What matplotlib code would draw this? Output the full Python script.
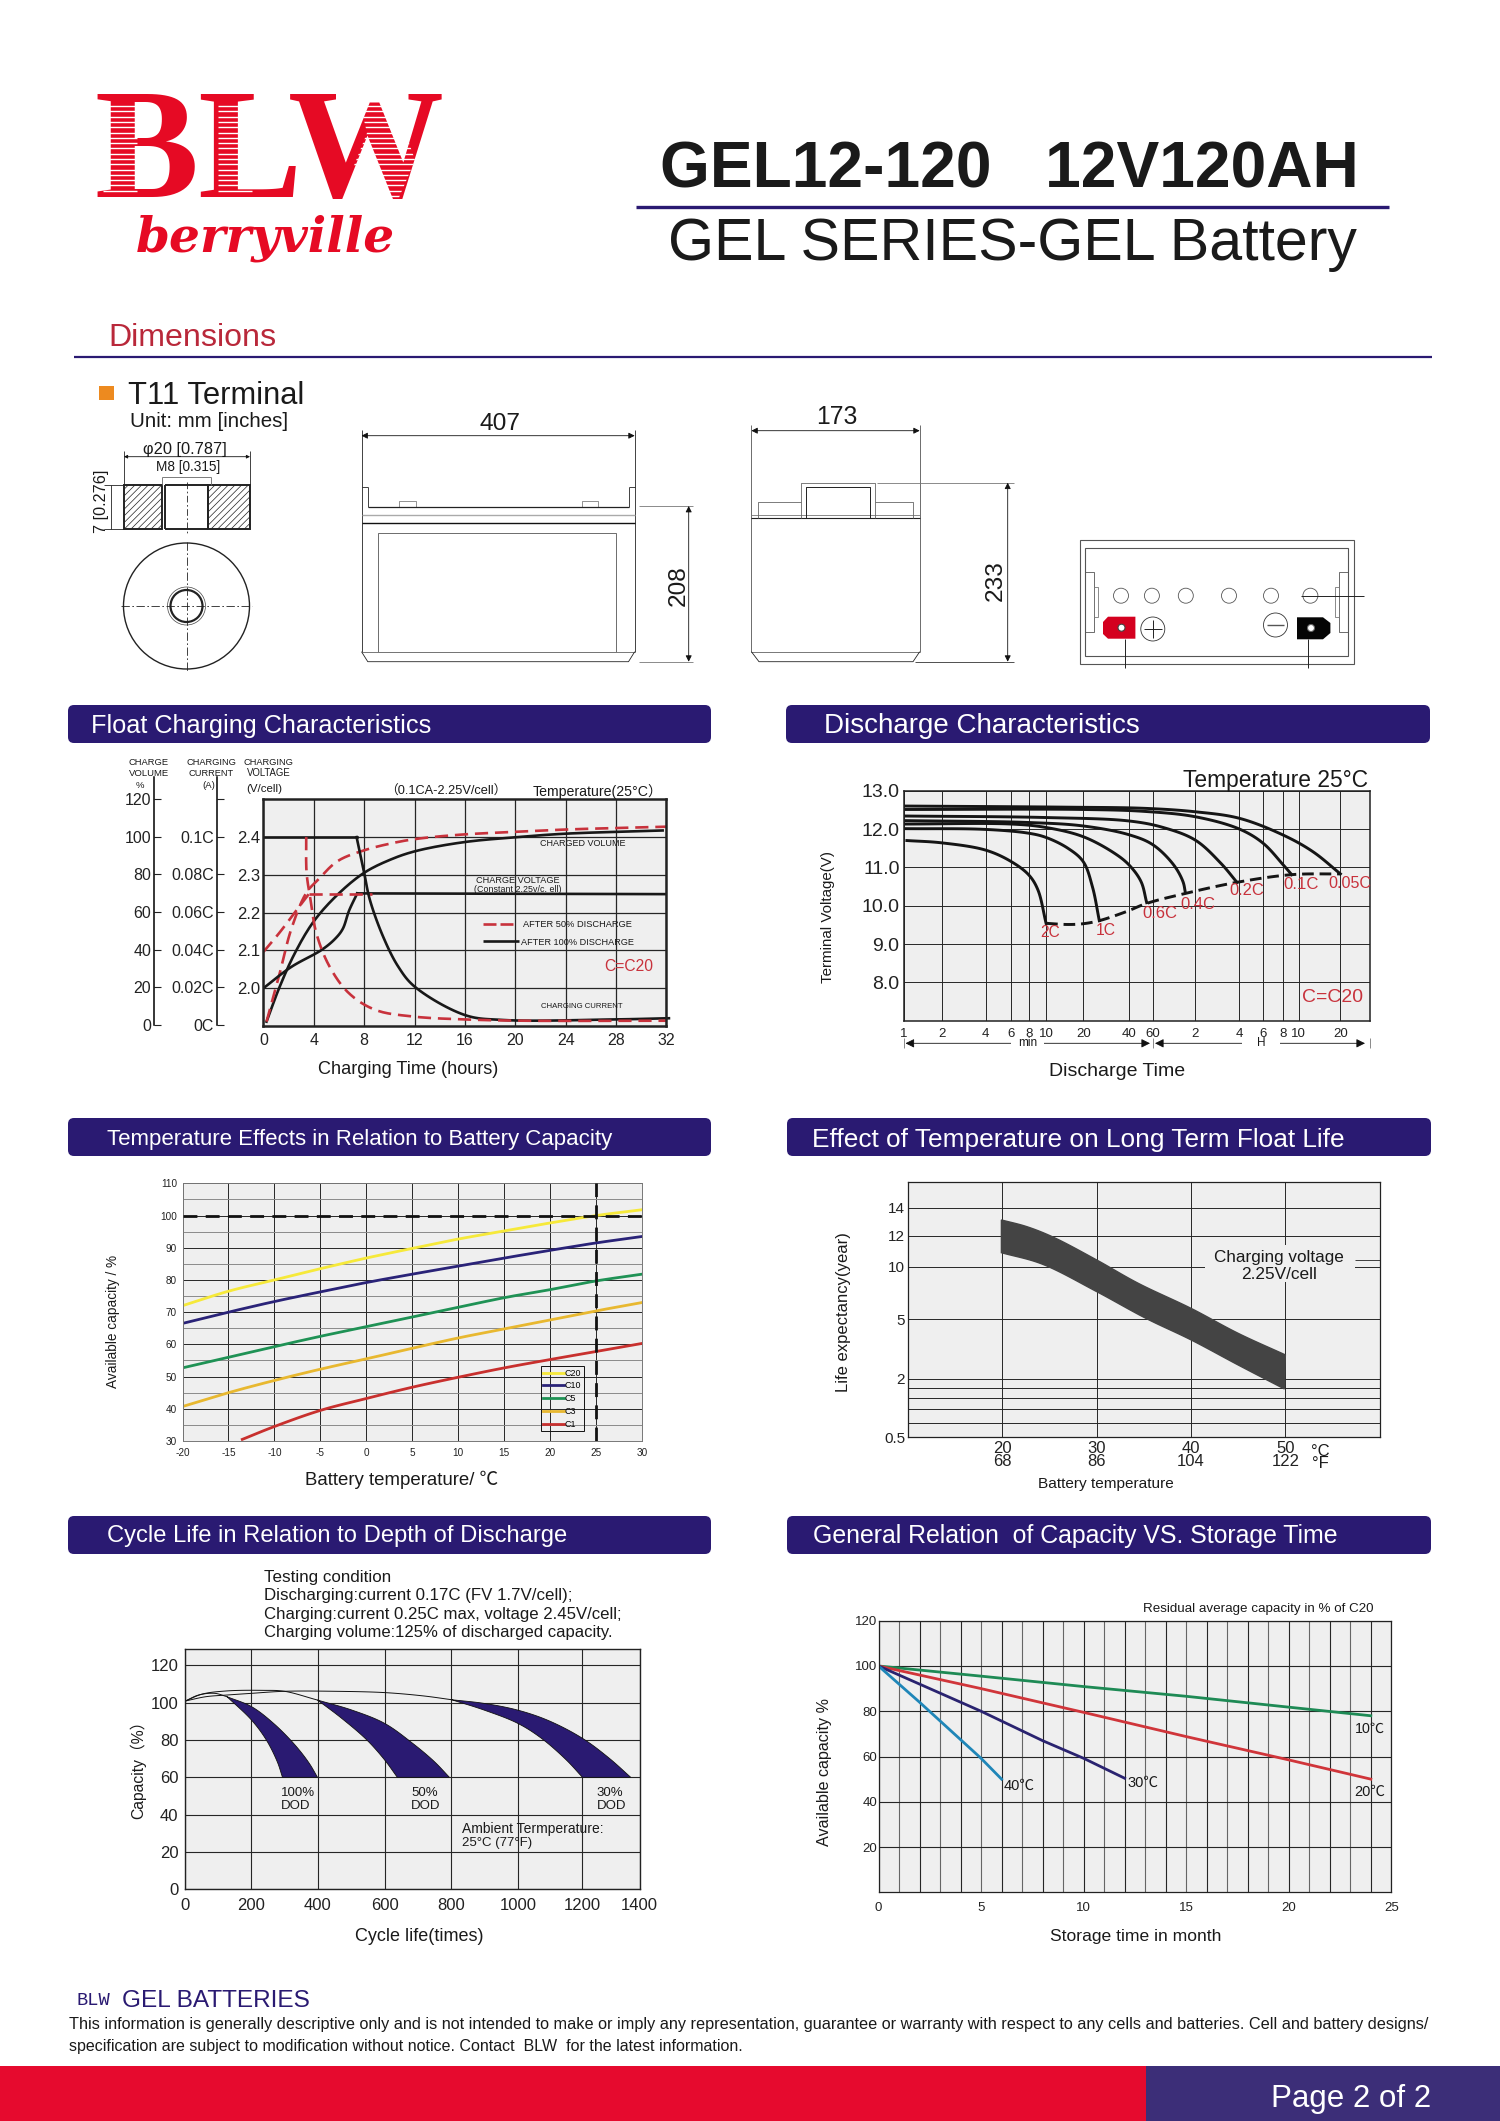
import numpy as np
import matplotlib
matplotlib.use("Agg")
import matplotlib.pyplot as plt
from matplotlib.patches import Rectangle, FancyBboxPatch, Circle, Polygon

plt.rcParams['font.family'] = ['Liberation Sans', 'Noto Sans CJK SC', 'DejaVu Sans']
plt.rcParams['hatch.linewidth'] = 0.5
W, H = 1500, 2121
NAVY = '#2a1a72'
RED = '#e60a24'
LRED = '#c8323c'
BG = '#efefef'
GRID = '#262626'

# ---------- Float charging ----------
hours_ticks = [0, 4, 8, 12, 16, 20, 24, 28, 32]
volt_ticks = [2.0, 2.1, 2.2, 2.3, 2.4]
volume_ticks = [0, 20, 40, 60, 80, 100, 120]
current_ticks = [0, 0.02, 0.04, 0.06, 0.08, 0.1, 0.12]
current_labels = ['0C', '0.02C', '0.04C', '0.06C', '0.08C', '0.1C', '']
vol100_h = [0.25, 1.3, 2.5, 4.0, 5.9, 8, 10.1, 12.1, 15.9, 20.2, 24, 31.7]
vol100_pct = [2.3, 20.9, 38.6, 55.4, 69.6, 81.1, 88.1, 92.6, 97.3, 100, 101.8, 103.5]
vol50_h = [0.25, 1.3, 2.2, 3.4, 4.35, 5.9, 8, 10.1, 12.1, 15.9, 20.2, 24, 32]
vol50_pct = [2.3, 28, 51, 70.4, 77.5, 87.3, 93, 96.6, 99, 101.4, 102.8, 104, 105.5]
volt100_h = [0, 2.2, 4.65, 5.7, 6.3, 6.8, 7.45]
volt100_v = [2.0, 2.056, 2.102, 2.131, 2.157, 2.205, 2.251]
volt100_flat_h = [7.45, 32]
volt100_flat_v = [2.251, 2.249]
volt50_h = [0, 1.3, 2.8, 3.6]
volt50_v = [2.096, 2.148, 2.214, 2.249]
volt50_flat_h = [3.6, 8.6]
volt50_flat_v = [2.249, 2.249]
cur100_flat_h = [0, 7.4]
cur100_flat_c = [0.1, 0.1]
cur100_h = [7.4, 8, 8.45, 9.5, 10.7, 12, 16, 19, 28, 32.2]
cur100_c = [0.1, 0.0811, 0.0669, 0.0474, 0.0315, 0.0209, 0.0058, 0.0032, 0.0035, 0.0041]
cur50_h = [3.4, 3.43, 3.74, 4.2, 5.25, 6.8, 8.9, 11.9, 15.9, 20.5, 32]
cur50_c = [0.1, 0.0811, 0.0669, 0.0492, 0.0315, 0.0173, 0.0085, 0.005, 0.0035, 0.0028, 0.0028]

# ---------- Discharge ----------
time_knots = [1, 2, 4, 6, 8, 10, 20, 40, 60, 120, 240, 360, 480, 600, 1200, 1945]
time_knot_pos = [271, 370, 485, 552, 598, 643, 740, 860, 922, 1033, 1148, 1210, 1263, 1303, 1412, 1488]
time_ticks = [1, 2, 4, 6, 8, 10, 20, 40, 60, 120, 240, 360, 480, 600, 1200]
time_labels = ['1', '2', '4', '6', '8', '10', '20', '40', '60', '2', '4', '6', '8', '10', '20']
d005_t = [1, 15, 52, 120, 240, 480, 759, 1200]
d005_v = [12.6, 12.57, 12.54, 12.45, 12.28, 11.84, 11.41, 10.83]
d01_t = [1, 20, 52, 120, 240, 360, 480, 542]
d01_v = [12.51, 12.51, 12.46, 12.32, 12.0, 11.63, 11.06, 10.81]
d02_t = [1, 10, 40, 71, 120, 180, 231]
d02_v = [12.34, 12.3, 12.21, 12.04, 11.71, 11.1, 10.61]
d04_t = [1, 8, 20, 40, 60, 84, 98, 102]
d04_v = [12.22, 12.17, 12.08, 11.85, 11.59, 11.07, 10.63, 10.34]
d06_t = [1, 6, 10, 20, 32, 40, 49, 54]
d06_v = [12.13, 12.13, 12.04, 11.8, 11.37, 11.06, 10.63, 10.08]
d1_t = [1, 4, 8, 10, 15, 20, 23, 25.5]
d1_v = [12.01, 11.99, 11.89, 11.78, 11.5, 11.15, 10.49, 9.61]
d2_t = [1.06, 2, 4, 6, 8, 9, 10]
d2_v = [11.7, 11.64, 11.45, 11.15, 10.8, 10.41, 9.54]
dend_t = [10, 15, 20, 25.5, 38, 54, 102, 231, 542, 1200]
dend_v = [9.54, 9.51, 9.53, 9.61, 9.84, 10.06, 10.32, 10.61, 10.81, 10.83]

# ---------- Temperature vs capacity ----------
temp_c = [-20, -15, -10, -5, 0, 5, 10, 15, 20, 25, 30]
cap_c20 = [72, 76.5, 80, 83.5, 86.8, 89.8, 92.7, 95.2, 97.7, 100, 101.8]
cap_c10 = [66.5, 70, 73.3, 76.3, 79.2, 81.8, 84.3, 86.8, 89.2, 91.5, 93.5]
cap_c5 = [52.7, 56, 59.3, 62.5, 65.5, 68.5, 71.5, 74.5, 77, 79.7, 81.8]
cap_c3 = [40.7, 45, 48.8, 52.3, 55.5, 58.8, 62, 64.8, 67.6, 70.4, 73]
temp_c1 = [-13.5, -10, -5, 0, 5, 10, 15, 20, 25, 30]
cap_c1 = [30.5, 34.5, 39.5, 43.2, 46.7, 49.8, 52.7, 55.3, 57.8, 60.3]

# ---------- Float life ----------
life_knots = [0.5, 0.7, 1, 1.2, 1.5, 2, 5, 10, 12, 14, 16]
life_knot_pos = [-832, -788, -748, -713, -683, -656, -478, -320, -227, -143, -67]
life_labels = ['0.5', '', '', '', '', '2', '5', '10', '12', '14']
life_temp_ticks = [20, 30, 40, 50]
life_temp_labels = ['20\n68', '30\n86', '40\n104', '50\n122']
life_up_t = [19.9, 22.6, 25.4, 30, 34.4, 40, 45, 50]
life_up_y = [13.12, 12.64, 11.9, 10.43, 8.42, 6.04, 4.29, 3.2]
life_lo_t = [19.9, 24.2, 30, 35.2, 40, 45, 49.9]
life_lo_y = [10.9, 10.17, 7.63, 5.1, 3.96, 2.69, 1.46]

# ---------- Cycle life ----------
cyc_knots = [0, 200, 400, 600, 800, 1000, 1200, 1400]
cyc_knot_pos = [183, 368, 553, 741, 928, 1114, 1295, 1455]
cyc_a_x = [0, 51, 126, 235, 300, 400]
cyc_a_y = [100.9, 104.6, 106.3, 106.6, 106.1, 101.4]
cyc_b_x = [0, 62, 126, 200, 300, 450, 600, 717, 800]
cyc_b_y = [100.9, 103.2, 104.1, 105, 106.1, 106.1, 105.4, 103.6, 101.6]
cyc_c_x = [0, 40, 89, 126]
cyc_c_y = [100.9, 104.1, 105, 103.2]
d100_up_x = [126, 200, 267, 332, 375, 400]
d100_up_y = [103.2, 97.9, 88.9, 77.3, 67.5, 60]
d100_lo_x = [126, 200, 245, 278, 294]
d100_lo_y = [103.2, 90.7, 80, 68.4, 60]
d50_up_x = [400, 503, 600, 684, 749, 794]
d50_up_y = [101.4, 96, 88.9, 78.2, 68.4, 60]
d50_lo_x = [400, 472, 547, 600, 638]
d50_lo_y = [101.4, 91.6, 80, 69.3, 60]
d30_up_x = [800, 899, 1000, 1095, 1200, 1294, 1369]
d30_up_y = [101.6, 99.6, 96, 90.4, 80.9, 70.2, 60]
d30_lo_x = [800, 899, 1000, 1073, 1150, 1200]
d30_lo_y = [101.6, 96, 88.9, 80.9, 69.3, 60]

# ---------- Storage ----------
months = list(range(0, 26))
month_labels = [str(m) if m % 5 == 0 else '' for m in months]
st10_m = [0, 5, 10, 15, 20, 24]
st10_v = [100, 95.5, 90.9, 86.6, 81.8, 78]
st20_m = [0, 5, 10, 15, 20, 24]
st20_v = [100, 90, 79.5, 68.8, 58.5, 50]
st30_m = [0, 5, 8, 10, 12]
st30_v = [100, 80, 67, 59.2, 50.4]
st40_m = [0, 2, 5, 6]
st40_v = [100, 84, 59.2, 50]

fig = plt.figure(figsize=(W / 100, H / 100), dpi=100, facecolor='white')
renderer = fig.canvas.get_renderer()


def axpx(x0, y0, x1, y1):
    a = fig.add_axes([x0 / W, 1 - y1 / H, (x1 - x0) / W, (y1 - y0) / H])
    a.set_facecolor(BG)
    return a


def smooth(ax, x, y, n=14):
    p = ax.transData.transform(np.column_stack([x, y]))
    P = np.vstack([2 * p[0] - p[1], p, 2 * p[-1] - p[-2]])
    out = [p[:1]]
    for i in range(1, len(P) - 2):
        p0, p1, p2, p3 = P[i - 1], P[i], P[i + 1], P[i + 2]
        t0 = 0.0
        t1 = t0 + max(np.linalg.norm(p1 - p0), 1e-6) ** 0.5
        t2 = t1 + max(np.linalg.norm(p2 - p1), 1e-6) ** 0.5
        t3 = t2 + max(np.linalg.norm(p3 - p2), 1e-6) ** 0.5
        t = np.linspace(t1, t2, n + 1)[1:][:, None]
        A1 = (t1 - t) / (t1 - t0) * p0 + (t - t0) / (t1 - t0) * p1
        A2 = (t2 - t) / (t2 - t1) * p1 + (t - t1) / (t2 - t1) * p2
        A3 = (t3 - t) / (t3 - t2) * p2 + (t - t2) / (t3 - t2) * p3
        B1 = (t2 - t) / (t2 - t0) * A1 + (t - t0) / (t2 - t0) * A2
        B2 = (t3 - t) / (t3 - t1) * A2 + (t - t1) / (t3 - t1) * A3
        out.append((t2 - t) / (t2 - t1) * B1 + (t - t1) / (t2 - t1) * B2)
    return ax.transData.inverted().transform(np.vstack(out)).T


def knot_scale(ax, which, vals, pos, log=False):
    vals = np.asarray(vals, float)
    pos = np.asarray(pos, float)
    kv = np.log10(vals) if log else vals

    def fwd(v):
        v = np.asarray(v, float)
        if log:
            v = np.log10(np.clip(v, 1e-6, None))
        return np.interp(v, kv, pos)

    def inv(v):
        r = np.interp(np.asarray(v, float), pos, kv)
        return 10 ** r if log else r
    if which == 'x':
        ax.set_xscale('function', functions=(fwd, inv))
    else:
        ax.set_yscale('function', functions=(fwd, inv))


def style(ax, xt, xl, yt, yl, fs, pad_x, pad_y, lw=0.7, sp=0.9):
    ax.set_xticks(xt, labels=xl)
    ax.set_yticks(yt, labels=yl)
    ax.minorticks_off()
    ax.tick_params(length=0, labelsize=fs, colors='#222222')
    ax.tick_params(axis='x', pad=pad_x)
    ax.tick_params(axis='y', pad=pad_y)
    ax.grid(True, color=GRID, lw=lw)
    for s in ax.spines.values():
        s.set_linewidth(sp)
        s.set_color('#222222')


# ---------- Overlay ----------
ov = fig.add_axes([0, 0, 1, 1], zorder=10)
ov.set_xlim(0, W)
ov.set_ylim(H, 0)
ov.axis('off')
ov.patch.set_alpha(0)


def T(x, y, s, w=None, size=10, color='#1a1a1a', ha='center', va='center', rot=0, **kw):
    t = ov.text(x, y, s, fontsize=size, color=color, ha=ha, va=va, rotation=rot, **kw)
    if w is not None:
        bb = t.get_window_extent(renderer)
        t.set_fontsize(size * w / max(bb.width, bb.height))
    if va == 'center':
        off = 0.1 * t.get_fontsize() * 100 / 72
        if rot:
            t.set_x(x + off)
        else:
            t.set_y(y + off)
    return t


def L(xs, ys, lw=0.6, c='#222222', ls='-', z=4):
    return ov.plot(xs, ys, lw=lw, color=c, ls=ls, zorder=z, solid_capstyle='butt')[0]


def R(x0, y0, x1, y1, fc='none', ec='#222222', lw=0.6, z=3, **kw):
    r = Rectangle((x0, y0), x1 - x0, y1 - y0, fc=fc, ec=ec, lw=lw, zorder=z, **kw)
    ov.add_patch(r)
    return r


def dim(x0, y0, x1, y1, ms=9):
    ov.annotate('', xy=(x1, y1), xytext=(x0, y0), zorder=5,
                arrowprops=dict(arrowstyle='<|-|>', color='#111111', lw=0.6, mutation_scale=ms,
                                shrinkA=0, shrinkB=0))


# Logo
T(269.5, 197, 'BLW', w=350, family='Liberation Serif', weight='bold', color=RED, va='baseline')
for yy in np.arange(106, 192, 5.3):
    L([103, 137], [yy, yy], lw=1.0, c='white', z=6)
    L([218, 252], [yy, yy], lw=1.0, c='white', z=6)
clip_w = Polygon([(360, 103), (395, 103), (415, 160), (398, 200), (391, 200), (353, 168), (367, 133)],
                 transform=ov.transData, fill=False, ec='none')
ov.add_patch(clip_w)
for yy in np.arange(106, 198, 5.3):
    ln = L([345, 425], [yy, yy], lw=1.0, c='white', z=6)
    ln.set_clip_path(clip_w)
T(265, 252, 'berryville', size=35, family='DejaVu Serif', style='italic', weight='bold', color=RED, va='baseline')

# Title
T(1009, 187, 'GEL12-120   12V120AH', w=696, weight='bold', va='baseline')
L([636, 1389], [207, 207], lw=2.4, c=NAVY)
T(1013, 260, 'GEL SERIES-GEL Battery', w=691, va='baseline')
T(108, 335, 'Dimensions', w=168, color='#b9283a', ha='left')
L([74, 1432], [357, 357], lw=1.6, c=NAVY)

# Terminal
R(99, 385.7, 114, 400, fc='#ed8a1f', ec='none')
T(128, 392.7, 'T11 Terminal', w=176, ha='left')
T(130, 419.3, 'Unit: mm [inches]', w=159, ha='left')
T(185, 447.7, 'φ20 [0.787]', w=84)
dim(124, 456.7, 250, 456.7, ms=5)
L([123.6, 123.6], [451, 485])
L([250, 250], [451, 485])
T(188, 466, 'M8 [0.315]', w=64)
L([161.5, 211], [477.3, 477.3], c='#666666')
L([161.5, 161.5], [477.3, 485], c='#666666')
L([211, 211], [477.3, 485], c='#666666')
R(123.6, 485, 162.4, 529.3, fc='white', lw=1.4, hatch='/////')
R(208.4, 485, 250, 529.3, fc='white', lw=1.4, hatch='/////')
L([165, 208.4], [485, 485], lw=1.4)
L([165, 208.4], [529.3, 529.3], lw=1.4)
L([165, 165], [485, 529.3], lw=1.4)
L([208.4, 208.4], [485, 529.3], lw=1.4)
L([186.5, 186.5], [481.7, 533], ls=(0, (8, 3, 2, 3)))
L([111, 111], [485, 529.3])
L([104, 124], [485, 485])
L([104, 124], [529.3, 529.3])
T(100, 501, '7 [0.276]', w=63, rot=90)
ov.add_patch(Circle((186.5, 606), 63, fc='white', ec='#222222', lw=1.0, zorder=3))
ov.add_patch(Circle((186.5, 606), 16, fc='white', ec='#222222', lw=1.6, zorder=3))
ov.add_patch(Circle((186.5, 606), 19, fc='none', ec='#444444', lw=0.5, zorder=3))
L([121, 252], [606, 606], ls=(0, (10, 3, 2, 3)))
L([186.5, 186.5], [541.7, 671.7], ls=(0, (10, 3, 2, 3)))

# Front view
dim(361.5, 435.7, 634.7, 435.7)
T(500, 421.7, '407', w=41)
L([361.5, 361.5], [430, 651.7])
L([634.7, 634.7], [430, 651.7])
L([367.8, 367.8], [487.3, 506.7])
L([628.5, 628.5], [487.3, 506.7])
L([361.5, 367.8], [487.3, 487.3])
L([628.5, 634.7], [487.3, 487.3])
L([367.8, 628.5], [506.7, 506.7], lw=0.9)
L([361.5, 634.7], [515, 515], c='#aaaaaa', lw=1.0)
L([361.5, 634.7], [523.3, 523.3], lw=1.0, c='#111111')
R(399, 501, 416, 506.7, ec='#666666', lw=0.5)
R(582, 501, 598, 506.7, ec='#666666', lw=0.5)
R(378, 533.3, 616.4, 651.7, ec='#555555', lw=0.6)
L([361.5, 634.7], [651.7, 651.7], c='#777777', lw=0.7)
L([361.5, 367.8, 628.5, 634.7], [651.7, 661.7, 661.7, 651.7])
L([639, 693], [506, 506], c='#777777')
L([639, 693], [661.7, 661.7], c='#777777')
dim(688.7, 506, 688.7, 661.7)
T(676, 586, '208', w=41, rot=90)

# Side view
dim(751.4, 430.7, 919.7, 430.7)
T(837, 415, '173', w=41)
L([751.4, 751.4], [425, 651.7], c='#555555')
L([919.7, 919.7], [425, 651.7], c='#555555')
L([751.4, 919.7], [515, 515], c='#777777')
L([751.4, 919.7], [518.3, 518.3], lw=0.8)
L([800.5, 800.5, 875, 875], [518.3, 482.7, 482.7, 518.3], c='#666666')
L([806, 806, 869.7, 869.7], [518.3, 487.3, 487.3, 518.3], lw=0.7)
L([757.7, 757.7, 800.5], [518.3, 501.7, 501.7], c='#666666')
L([875, 913, 913], [501.7, 501.7, 518.3], c='#666666')
L([751.4, 919.7], [651.7, 651.7], c='#777777', lw=0.7)
L([751.4, 759, 913, 919.7], [651.7, 661.7, 661.7, 651.7])
L([877, 1013.5], [482.7, 482.7], c='#777777')
L([915, 1013.5], [661.7, 661.7], c='#333333')
dim(1007.7, 482.7, 1007.7, 661.7)
T(993, 580.7, '233', w=41, rot=90)

# Top view
R(1079.5, 540, 1353.7, 664, ec='#555555', lw=0.8)
R(1085.4, 548.3, 1348, 656, ec='#555555', lw=0.8)
R(1085.4, 572.3, 1094, 631.7, ec='#555555')
R(1094, 587.3, 1098.3, 616.7, ec='#777777')
R(1339.4, 572.3, 1348, 631.7, ec='#555555')
R(1335, 587.3, 1339.4, 616.7, ec='#777777')
for cx in (1121, 1151.9, 1185.8, 1229, 1271, 1310.4):
    ov.add_patch(Circle((cx, 595.7), 7.5, fc='white', ec='#555555', lw=0.6, zorder=3))
ov.add_patch(Polygon([(1108, 616.7), (1135.4, 616.7), (1135.4, 638.7), (1108, 638.7), (1103, 634), (1103, 622)],
                     fc='#d4001f', ec='none', zorder=3))
ov.add_patch(Polygon([(1297, 617.3), (1323, 617.3), (1330.4, 623), (1330.4, 633), (1323, 639.3), (1297, 639.3)],
                     fc='#050505', ec='none', zorder=3))
ov.add_patch(Circle((1121.5, 627.7), 3.5, fc='white', ec='#444444', lw=0.8, zorder=4))
ov.add_patch(Circle((1311, 628), 3.5, fc='white', ec='#666666', lw=0.8, zorder=4))
ov.add_patch(Circle((1152.8, 629), 12, fc='white', ec='#333333', lw=0.6, zorder=3))
ov.add_patch(Circle((1275.5, 625), 12, fc='white', ec='#333333', lw=0.6, zorder=3))
L([1144, 1162], [629, 629], lw=0.7)
L([1152.8, 1152.8], [620, 638], lw=0.7)
L([1267, 1284], [625, 625], lw=1.0, c='#555555')
L([1125, 1125], [638.7, 668.3], lw=0.7)
L([1308, 1308], [639.3, 668.3], lw=0.7)
L([1301.4, 1364], [595.7, 595.7], lw=0.7)

# Section bars
bars = [
    (68, 705, 711, 743, 'Float Charging Characteristics', 90.6, 431.5, 723.6),
    (786, 705, 1430, 743, 'Discharge Characteristics', 823.7, 1141.6, 723.6),
    (68, 1118, 711, 1156, 'Temperature Effects in Relation to Battery Capacity', 106.9, 612.7, 1137.5),
    (787, 1118, 1431, 1156, 'Effect of Temperature on Long Term Float Life', 811.6, 1347.2, 1137.5),
    (68, 1516, 711, 1554, 'Cycle Life in Relation to Depth of Discharge', 106.9, 568, 1534),
    (787, 1516, 1431, 1554, 'General Relation  of Capacity VS. Storage Time', 813, 1343, 1534),
]
for x0, y0, x1, y1, s, tx0, tx1, ty in bars:
    ov.add_patch(FancyBboxPatch((x0 + 6, y0 + 6), x1 - x0 - 12, y1 - y0 - 12,
                                boxstyle='round,pad=6', fc=NAVY, ec='none', zorder=2))
    T(tx0, ty, s, w=tx1 - tx0, color='white', ha='left')

# ---------- Chart 1 ----------
a1 = axpx(263.4, 799.3, 666.4, 1026)
a1.set_xlim(0, 32)
a1.set_ylim(1.9, 2.5)
style(a1, hours_ticks, [str(h) for h in hours_ticks], volt_ticks, ['2.0', '2.1', '2.2', '2.3', '2.4'], 11.5, 5, 2, lw=0.9, sp=1.8)
a1.tick_params(axis='y', labelsize=12)


def pct2v(p):
    return 1.9 + np.asarray(p) / 200


def amp2v(c):
    return 1.9 + np.asarray(c) * 5


RD = dict(color='#c8323c', lw=1.9, ls=(0, (5, 2.6)))
BK = dict(color='#181818', lw=1.9)
a1.plot(*smooth(a1, vol100_h, pct2v(vol100_pct)), **BK)
a1.plot(*smooth(a1, vol50_h, pct2v(vol50_pct)), **RD)
a1.plot(*smooth(a1, volt100_h, volt100_v), **BK)
a1.plot(volt100_flat_h, volt100_flat_v, **BK)
a1.plot(*smooth(a1, volt50_h, volt50_v), **RD)
a1.plot(volt50_flat_h, volt50_flat_v, **RD)
a1.plot(cur100_flat_h, amp2v(cur100_flat_c), **BK)
a1.plot(*smooth(a1, cur100_h, amp2v(cur100_c)), clip_on=False, **BK)
a1.plot(*smooth(a1, cur50_h, amp2v(cur50_c)), **RD)

for xpos, ticks, labs in [(154, volume_ticks, [str(v) for v in volume_ticks]),
                          (216.7, current_ticks, current_labels)]:
    s = fig.add_axes([xpos / W, 1 - 1025 / H, 7 / W, (1025 - 777.3) / H])
    s.patch.set_alpha(0)
    s.set_xticks([])
    s.set_ylim(0, 131.5 if ticks is volume_ticks else 0.1315)
    s.set_yticks(ticks, labels=labs)
    for k, sp in s.spines.items():
        sp.set_visible(k == 'left')
    s.spines['left'].set_linewidth(1.1)
    s.tick_params(axis='y', direction='in', length=5, width=0.8, labelsize=11.5, pad=2, colors='#222222')

T(148.6, 762, 'CHARGE', w=40)
T(148.6, 772.3, 'VOLUME', w=40)
T(140, 785, '%', size=6.8)
T(211, 762, 'CHARGING', w=50)
T(211, 772.3, 'CURRENT', w=45)
T(209, 785, '(A)', size=6.8)
T(268.8, 762, 'CHARGING', w=50)
T(268.8, 772.3, 'VOLTAGE', w=44)
T(263.8, 787.7, '(V/cell)', w=36)
T(446, 790, '（0.1CA-2.25V/cell）', w=122)
T(598, 790, 'Temperature(25°C）', w=130)
T(583, 843, 'CHARGED VOLUME', w=86)
T(518, 880, 'CHARGE VOLTAGE', w=84)
T(518, 889, '(Constant 2.25v/c. ell)', w=87)
L([482.7, 496], [924, 924], lw=1.9, c='#c8323c')
L([500, 513.3], [924, 924], lw=1.9, c='#c8323c')
T(523, 923.5, 'AFTER 50% DISCHARGE', w=109, ha='left')
L([482.7, 519], [941.3, 941.3], lw=1.9, c='#181818')
T(521, 942, 'AFTER 100% DISCHARGE', w=113, ha='left')
T(628.5, 965, 'C=C20', w=49, color=LRED)
T(582, 1006, 'CHARGING CURRENT', w=81.5)
T(408, 1067.7, 'Charging Time (hours)', w=182)

# ---------- Chart 2 ----------
a2 = axpx(903.7, 790.7, 1369.5, 1020.7)
knot_scale(a2, 'x', time_knots, time_knot_pos, log=True)
a2.set_xlim(1, 1945)
a2.set_ylim(7, 13)
style(a2, time_ticks, time_labels, [8, 9, 10, 11, 12, 13], ['8.0', '9.0', '10.0', '11.0', '12.0', '13.0'], 9.5, 5, 3, sp=1.1)
a2.tick_params(axis='y', labelsize=14)
for tx, vx in [(d005_t, d005_v), (d01_t, d01_v), (d02_t, d02_v), (d04_t, d04_v), (d06_t, d06_v), (d1_t, d1_v), (d2_t, d2_v)]:
    a2.plot(*smooth(a2, tx, vx), color='#151515', lw=2.1)
a2.plot(*smooth(a2, dend_t, dend_v), color='#151515', lw=2.1, ls=(0, (4, 2)))
T(1276, 778, 'Temperature 25°C', w=186)
T(826.8, 916.7, 'Terminal Voltage(V)', w=133, rot=90)
T(1116.7, 1070, 'Discharge Time', w=136)
for s, x, y, w_ in [('2C', 1050, 931, 20), ('1C', 1105.4, 929.3, 20), ('0.6C', 1159.7, 912.3, 35),
                    ('0.4C', 1198, 903.3, 35), ('0.2C', 1246.6, 889.3, 35), ('0.1C', 1301.3, 882.7, 35),
                    ('0.05C', 1350, 882, 43)]:
    T(x, y, s, w=w_, color=LRED)
T(1332.5, 996, 'C=C20', w=61, color=LRED)
dim(905.5, 1043.3, 1150, 1043.3, ms=13)
dim(1155, 1043.3, 1365, 1043.3, ms=13)
R(1011, 1038, 1044, 1049, fc='white', ec='none', z=6)
R(1242, 1038, 1280, 1049, fc='white', ec='none', z=6)
T(1027.7, 1042, 'min', size=8.5, zorder=7)
T(1261, 1042, 'H', size=8.5, zorder=7)
for xv in (903.7, 1153, 1370):
    L([xv, xv], [1038, 1048], c='#777777')

# ---------- Chart 3 ----------
a3 = axpx(182.5, 1183.3, 642.3, 1441)
a3.set_xlim(-20, 30)
a3.set_ylim(30, 110)
yt3 = list(range(30, 111, 5))
style(a3, list(range(-20, 31, 5)), [str(v) for v in range(-20, 31, 5)], yt3,
      [str(v) if v % 10 == 0 else '' for v in yt3], 7.2, 5, 4, lw=0.7, sp=0.7)
for spn in a3.spines.values():
    spn.set_color('#777777')
for i, gl in enumerate(a3.get_ygridlines()):
    if yt3[i] % 10 == 5:
        gl.set_color('#8a8a8a')
h3 = []
for x3, y3, col, lab in [(temp_c, cap_c20, '#f6e93a', 'C20'), (temp_c, cap_c10, '#2a2378', 'C10'),
                         (temp_c, cap_c5, '#1f9255', 'C5'), (temp_c, cap_c3, '#e8b830', 'C3'),
                         (temp_c1, cap_c1, '#c8302e', 'C1')]:
    h3.append(a3.plot(*smooth(a3, x3, y3), color=col, lw=2.0, label=lab)[0])
a3.axhline(100, color='#111111', lw=2, ls=(0, (5, 3)), zorder=3)
a3.axvline(25, color='#111111', lw=2, ls=(0, (5, 3)), zorder=3)
leg = a3.legend(handles=h3, loc='lower left', bbox_to_anchor=(0.779, 0.0375), borderaxespad=0,
                fontsize=6.4, frameon=True, fancybox=False, framealpha=1, edgecolor='#111111',
                handlelength=2.3, handletextpad=0.1, labelspacing=0.42, borderpad=0.3)
leg.get_frame().set_facecolor('none')
leg.get_frame().set_linewidth(0.7)
T(111.5, 1321, 'Available capacity / %', w=133, rot=90)
T(401.5, 1477.7, 'Battery temperature/ ℃', w=195)

# ---------- Chart 4 ----------
a4 = axpx(908, 1182.3, 1379.7, 1437.3)
knot_scale(a4, 'y', life_knots, life_knot_pos)
a4.set_xlim(10, 60)
a4.set_ylim(0.5, 16)
style(a4, life_temp_ticks, life_temp_labels, life_knots[:-1], life_labels, 10, 3, 2, lw=0.7, sp=0.9)
a4.tick_params(axis='y', labelsize=11)
for lb in a4.get_xticklabels():
    lb.set_linespacing(0.78)
    lb.set_fontsize(12)
ux, uy = smooth(a4, life_up_t, life_up_y)
lx, ly = smooth(a4, life_lo_t, life_lo_y)
a4.fill(np.r_[ux, lx[::-1]], np.r_[uy, ly[::-1]], color='#444444', zorder=3)
T(842, 1311.7, 'Life expectancy(year)', w=160, rot=90)
T(1105.6, 1482.3, 'Battery temperature', w=137)
T(1320, 1450, '°C', size=12)
T(1320, 1462, '°F', size=12)
R(1204.8, 1245, 1354.6, 1281.7, fc=BG, ec='none', z=2)
T(1278.8, 1256, 'Charging voltage', w=130)
T(1278.8, 1272.7, '2.25V/cell', w=76)
L([1354.6, 1379.7], [1260, 1260], lw=0.6)

# ---------- Chart 5 ----------
a5 = axpx(185.4, 1649.3, 639.6, 1889.3)
knot_scale(a5, 'x', cyc_knots, cyc_knot_pos)
a5.set_xlim(0, 1400)
a5.set_ylim(0, 128.6)
style(a5, cyc_knots, [str(c) for c in cyc_knots], [0, 20, 40, 60, 80, 100, 120],
      ['0', '20', '40', '60', '80', '100', '120'], 12, 6, 5, lw=0.8, sp=1.0)
for xa, ya in [(cyc_a_x, cyc_a_y), (cyc_b_x, cyc_b_y), (cyc_c_x, cyc_c_y)]:
    a5.plot(*smooth(a5, xa, ya), color='#111111', lw=0.7)
for ux5, uy5, lx5, ly5 in [(d100_up_x, d100_up_y, d100_lo_x, d100_lo_y),
                           (d50_up_x, d50_up_y, d50_lo_x, d50_lo_y),
                           (d30_up_x, d30_up_y, d30_lo_x, d30_lo_y)]:
    ax5, ay5 = smooth(a5, ux5, uy5)
    bx5, by5 = smooth(a5, lx5, ly5)
    a5.fill(np.r_[ax5, bx5[::-1]], np.r_[ay5, by5[::-1]], fc=NAVY, ec='#111111', lw=0.6, zorder=3)
for s, y, w_ in [('Testing condition', 1575.7, 127), ('Discharging:current 0.17C (FV 1.7V/cell);', 1594, 308),
                 ('Charging:current 0.25C max, voltage 2.45V/cell;', 1612.7, 358),
                 ('Charging volume:125% of discharged capacity.', 1631.3, 347)]:
    T(263.6, y, s, w=w_, ha='left')
T(136, 1766, 'Capacity（%）', w=107, rot=90)
T(419.6, 1935, 'Cycle life(times)', w=129)
for x, a_ in [(280.7, '100%'), (411, '50%'), (596.8, '30%')]:
    T(x, 1791.3, a_, size=9.5, ha='left')
    T(x, 1804.3, 'DOD', size=9.5, ha='left')
T(462, 1827.3, 'Ambient Termperature:', w=141, ha='left')
T(462, 1841.7, '25°C (77°F)', w=70.5, ha='left')

# ---------- Chart 6 ----------
a6 = axpx(878.5, 1620.7, 1391.3, 1892.3)
a6.set_xlim(0, 25)
a6.set_ylim(0, 120)
style(a6, months, month_labels, [20, 40, 60, 80, 100, 120], ['20', '40', '60', '80', '100', '120'], 9.5, 7, 1, lw=0.8, sp=0.9)
for i, gl in enumerate(a6.get_xgridlines()):
    if i % 2:
        gl.set_color('#666666')
a6.plot(st10_m, st10_v, color='#1e8a55', lw=2.0)
a6.plot(st20_m, st20_v, color='#d0353a', lw=2.0)
a6.plot(st30_m, st30_v, color='#2a2370', lw=2.0)
a6.plot(st40_m, st40_v, color='#1f86b8', lw=2.0)
T(1258, 1607.7, 'Residual average capacity in % of C20', w=230)
T(823, 1772.5, 'Available capacity %', w=148, rot=90)
T(1135.6, 1935, 'Storage time in month', w=172)
T(1369.8, 1727.7, '10℃', w=30)
T(1369.4, 1790, '20℃', w=31)
T(1143, 1781.7, '30℃', w=31)
T(1019, 1784, '40℃', w=31)

# Footer
T(76, 1999, 'BLW', w=34, family='Liberation Mono', color=NAVY, ha='left')
T(122, 1999, 'GEL BATTERIES', w=189, color=NAVY, ha='left')
T(69, 2023, 'This information is generally descriptive only and is not intended to make or imply any representation, '
            'guarantee or warranty with respect to any cells and batteries. Cell and battery designs/', w=1361, ha='left')
T(69, 2045, 'specification are subject to modification without notice. Contact  BLW  for the latest information.',
  w=676, ha='left')
R(0, 2066, 1146, 2121, fc='#e60a2e', ec='none')
R(1146, 2066, 1500, 2121, fc='#3c2e78', ec='none')
T(1271, 2096, 'Page 2 of 2', w=161, color='white', ha='left')

fig.savefig('out.png', dpi=100, facecolor='white')
